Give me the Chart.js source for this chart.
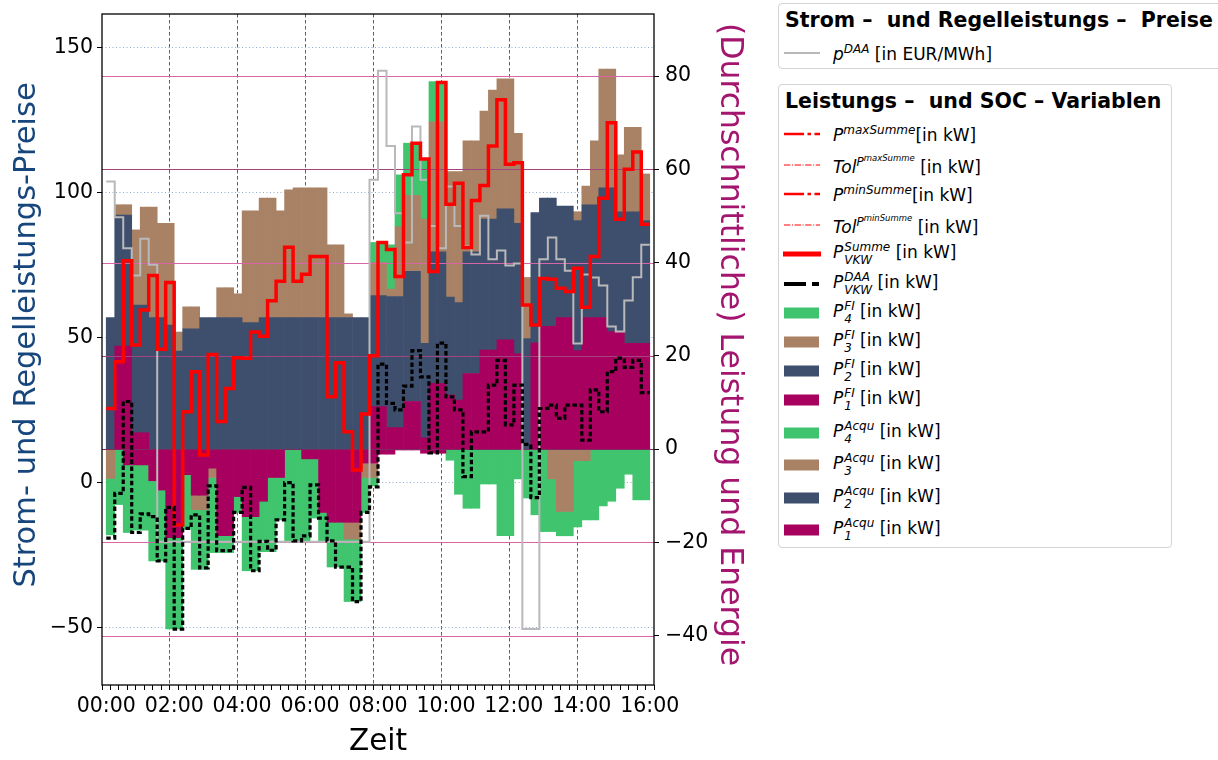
<!DOCTYPE html>
<html>
<head>
<meta charset="utf-8">
<title>Leistung und Preise</title>
<script src="https://cdn.jsdelivr.net/npm/chart.js@4"></script>
<style>
  body { margin: 0; background: #fff; width: 1218px; height: 760px; overflow: hidden; position: relative; font-family: 'DejaVu Sans', sans-serif; color: #000; }
  #chart { position: absolute; left: 0; top: 0; }
  .box { position: absolute; left: 778px; border: 1.5px solid #d4d4d4; border-radius: 4px; background: #fff; box-sizing: border-box; }
  .box h3 { position: absolute; left: 6px; top: 6px; margin: 0; font-size: 20.5px; font-weight: bold; line-height: 21px; white-space: pre; }
  .row { position: absolute; left: 4px; height: 30px; display: flex; align-items: center; white-space: nowrap; font-size: 17px; }
  .row svg { width: 38px; height: 14px; margin-right: 12px; flex: none; }
  .ss { display: inline-flex; flex-direction: column; font-size: 12px; line-height: 13px; vertical-align: 7px; font-style: italic; margin-left: 1px; }
  .sp { font-size: 12px; vertical-align: 7px; font-style: italic; }
  .sp2 { font-size: 8.5px; vertical-align: 5px; font-style: italic; }
</style>
</head>
<body>
<canvas id="chart" width="770" height="760"></canvas>

<div class="box" style="top:3px; width:460px; height:66px;">
  <h3>Strom –  und Regelleistungs –  Preise</h3>
  <div class="row" style="top:34px"><svg viewBox="0 0 38 14"><line x1="1" y1="7" x2="37" y2="7" stroke="#b8b8b8" stroke-width="2"/></svg><span><i>p</i><span class="sp">DAA</span> [in EUR/MWh]</span></div>
</div>

<div class="box" style="top:84px; width:394px; height:464px;">
  <h3>Leistungs –  und SOC – Variablen</h3>
  <div class="row" style="top:34px"><svg viewBox="0 0 38 14"><line x1="1" y1="7" x2="37" y2="7" stroke="#ff0000" stroke-width="2.6" stroke-dasharray="20 3.5 3.5 3.5"/></svg><span><i>P</i><span class="sp">maxSumme</span>[in kW]</span></div>
  <div class="row" style="top:65px"><svg viewBox="0 0 38 14"><line x1="1" y1="7" x2="37" y2="7" stroke="#ff0000" stroke-width="1" stroke-dasharray="6.4 1.6 1 1.6"/></svg><span><i>Tol</i><span class="sp">P<span class="sp2">maxSumme</span></span> [in kW]</span></div>
  <div class="row" style="top:94px"><svg viewBox="0 0 38 14"><line x1="1" y1="7" x2="37" y2="7" stroke="#ff0000" stroke-width="2.6" stroke-dasharray="20 3.5 3.5 3.5"/></svg><span><i>P</i><span class="sp">minSumme</span>[in kW]</span></div>
  <div class="row" style="top:125px"><svg viewBox="0 0 38 14"><line x1="1" y1="7" x2="37" y2="7" stroke="#ff0000" stroke-width="1" stroke-dasharray="6.4 1.6 1 1.6"/></svg><span><i>Tol</i><span class="sp">P<span class="sp2">minSumme</span></span> [in kW]</span></div>
  <div class="row" style="top:154px"><svg viewBox="0 0 38 14"><line x1="0" y1="7" x2="38" y2="7" stroke="#ff0000" stroke-width="5"/></svg><span><i>P</i><span class="ss"><span>Summe</span><span>VKW</span></span> [in kW]</span></div>
  <div class="row" style="top:184px"><svg viewBox="0 0 38 14"><line x1="1" y1="7" x2="36" y2="7" stroke="#000" stroke-width="4" stroke-dasharray="22 6"/></svg><span><i>P</i><span class="ss"><span>DAA</span><span>VKW</span></span> [in kW]</span></div>
  <div class="row" style="top:213px"><svg viewBox="0 0 38 14"><rect x="1" y="1.5" width="35" height="11" fill="#40c46e"/></svg><span><i>P</i><span class="ss"><span>FI</span><span>4</span></span> [in kW]</span></div>
  <div class="row" style="top:242px"><svg viewBox="0 0 38 14"><rect x="1" y="1.5" width="35" height="11" fill="#a98265"/></svg><span><i>P</i><span class="ss"><span>FI</span><span>3</span></span> [in kW]</span></div>
  <div class="row" style="top:271px"><svg viewBox="0 0 38 14"><rect x="1" y="1.5" width="35" height="11" fill="#3e4f6e"/></svg><span><i>P</i><span class="ss"><span>FI</span><span>2</span></span> [in kW]</span></div>
  <div class="row" style="top:300px"><svg viewBox="0 0 38 14"><rect x="1" y="1.5" width="35" height="11" fill="#a8005f"/></svg><span><i>P</i><span class="ss"><span>FI</span><span>1</span></span> [in kW]</span></div>
  <div class="row" style="top:333px"><svg viewBox="0 0 38 14"><rect x="1" y="1.5" width="35" height="11" fill="#40c46e"/></svg><span><i>P</i><span class="ss"><span>Acqu</span><span>4</span></span> [in kW]</span></div>
  <div class="row" style="top:365px"><svg viewBox="0 0 38 14"><rect x="1" y="1.5" width="35" height="11" fill="#a98265"/></svg><span><i>P</i><span class="ss"><span>Acqu</span><span>3</span></span> [in kW]</span></div>
  <div class="row" style="top:398px"><svg viewBox="0 0 38 14"><rect x="1" y="1.5" width="35" height="11" fill="#3e4f6e"/></svg><span><i>P</i><span class="ss"><span>Acqu</span><span>2</span></span> [in kW]</span></div>
  <div class="row" style="top:430px"><svg viewBox="0 0 38 14"><rect x="1" y="1.5" width="35" height="11" fill="#a8005f"/></svg><span><i>P</i><span class="ss"><span>Acqu</span><span>1</span></span> [in kW]</span></div>
</div>

<script>
// quarter-hour values 00:00 .. 15:45 (64 steps)
const timeLabels = ['00:00', '02:00', '04:00', '06:00', '08:00', '10:00', '12:00', '14:00', '16:00'];
const priceTicks = [150, 100, 50, 0, -50];
const powerTicks = [80, 60, 40, 20, 0, -20, -40];

// day-ahead price [EUR/MWh], left axis
const priceDAA = [103.8, 91.5, 80.8, 71.4, 84.1, 75.1, -20.4, -20.4, -20.4, -20.4,
  -20.4, -20.4, -20.4, -20.4, -20.4, -20.4, -20.4, -20.4, -20.4, -20.4,
  -20.4, -20.4, -20.4, -20.4, -20.4, -20.4, -20.4, -20.4, -20.4, -20.4,
  -20.4, 104.4, 142, 116.1, 92.9, 82.8, 122.8, 104.4, 88.5, 80.8,
  102.1, 88.5, 81.6, 78.7, 92, 77, 80, 74.9, 75.6, -50.5,
  -50.5, 77, 84.5, 77, 73.1, 48, 71.8, 70.7, 68, 53.8,
  52.1, 62.8, 70.8, 82];

// P_VKW^Summe [kW]
const pVkwSumme = [8.7, 18.7, 40.4, 22.3, 29.8, 37.2, 21.4, 35.7, -16.3, 8.0,
  16.6, -1.3, 20.3, 5.9, 13, 19.6, 19.5, 25.1, 24.2, 31.8,
  36, 43.3, 36, 37.5, 41.3, 41.3, 11.2, 18.5, 3.7, -4.5,
  7.5, 20, 44.3, 42.8, 37, 58.8, 65.6, 62.2, 38.1, 78.6,
  52.5, 57, 43.2, 53.3, 56.5, 65, 74.9, 61.1, 61.4, 30.9,
  26.6, 36.6, 36.4, 34.5, 33.8, 38.8, 30.4, 41.3, 53.8, 70,
  49.3, 60, 63.7, 48.2];

// P_VKW^DAA [kW]
const pVkwDAA = [-19.1, -9.5, 10.2, -17.9, -13.9, -14.5, -24, -12.5, -38.6, -17,
  -14.1, -25.5, -7.9, -21.8, -21.8, -13.6, -8.2, -26.1, -19.8, -21.7,
  -15.2, -7.2, -19.7, -18.6, -7.7, -14.8, -19.7, -25.3, -25.3, -32.7,
  -13.6, -8.1, 18.2, 9.8, 8.4, 13.5, 21.1, 15.5, -0.8, 22.7,
  11.2, 8.4, -5.9, 3.7, 3.7, 13.7, 19, 5.2, 13.7, 1,
  -10.4, 8.7, 9.4, 6.6, 9.4, 9.4, 1.9, 12.7, 8, 16.6,
  19.5, 17.5, 19, 12.1];

// P_1..4^FI [kW]
const pFI1 = [0, 22.1, 22.1, 3.5, 3.5, 0, 0, 0, 0, 0,
  0, 0, 0, 0, 0, 0, 0, 0, 0, 0,
  0, 0, 0, 0, 0, 0, 0, 0, 0, 0,
  0, 9.1, 9.1, 4.6, 4.6, 10.2, 10.2, 2.4, 14.1, 14.1,
  11.6, 10.5, 16.2, 16.2, 21.2, 21.2, 23.4, 23.4, 20.4, 0,
  22.8, 26.3, 26.3, 28.2, 28.2, 21.1, 28.2, 28.2, 28.2, 25.2,
  25.2, 22.7, 22.7, 22.7];
const pFI2 = [28.2, 28.1, 28.1, 27.4, 27.4, 28.2, 28.2, 26.6, 21, 25.8,
  25.8, 28.2, 28.2, 28.2, 28.2, 28.2, 27.1, 27.1, 28.2, 28.2,
  28.2, 28.2, 28.2, 28.2, 28.2, 28.2, 28.2, 28.2, 28.2, 28.2,
  28.2, 23.8, 23.8, 28.1, 28.1, 27.9, 27.9, 20.3, 28.2, 28.2,
  21, 20.9, 26.1, 26.1, 28.1, 28.1, 28.1, 28.1, 28, 23.7,
  27.9, 27.5, 27.5, 23.9, 23.9, 27.9, 24.2, 24.2, 27.8, 30.8,
  25.7, 28.2, 28.2, 26.3];
const pFI3 = [0, 2.2, 2.2, 16.1, 21, 23.7, 20.2, 21.8, 4.1, 4.7,
  4.7, 0, 0, 6.4, 6.4, 5.1, 24, 24, 25.6, 25.6,
  22.9, 27.4, 27.8, 27.8, 27.8, 27.8, 15.6, 15.6, 0.8, 0,
  0, 7.1, 7.1, 1.6, 15, 16.3, 16.3, 26.6, 27.9, 27.9,
  26.9, 28.1, 23.8, 23.8, 23.2, 27.7, 27.9, 27.9, 19.3, 13.1,
  0, 0, 0, 0, 0, 1.9, 4, 13.7, 25.5, 25.5,
  12.2, 18.1, 18.1, 10];
const pFI4 = [0, 0, 0, 0, 0, 0, 0, 0, 0, 0,
  0, 0, 0, 0, 0, 0, 0, 0, 0, 0,
  0, 0, 0, 0, 0, 0, 0, 0, 0, 0,
  0, 4.3, 4.3, 9.5, 11.1, 11.2, 11.2, 12.7, 8.6, 8.6,
  0, 0, 0, 0, 0, 0, 0, 0, 0, 0,
  0, 0, 0, 0, 0, 0, 0, 0, 0, 0,
  0, 0, 0, 0];

// P_1..4^Acqu [kW]
const pAcqu1 = [0, 0, -3.4, -3.4, -3.4, -6.8, -8.8, -19, -19, -5.5,
  -9.9, -9.9, -4.1, -18.6, -18.6, -10.2, -14.5, -14.5, -11.2, -6.1,
  -6.1, 0, 0, -2.1, -2.1, -13.6, -15.7, -15.7, -15.7, -15.7,
  -3, -3, -1.1, -1.1, -0.2, -0.2, -0.2, -0.9, -0.9, -0.9,
  0, 0, 0, 0, 0, 0, 0, 0, 0, 0,
  0, 0, 0, 0, 0, 0, 0, 0, 0, 0,
  0, 0, 0, 0];
const pAcqu2 = [0, 0, 0, 0, 0, 0, 0, 0, 0, 0,
  0, 0, 0, 0, 0, 0, 0, 0, 0, 0,
  0, 0, 0, 0, 0, 0, 0, 0, 0, 0,
  0, 0, 0, 0, 0, 0, 0, 0, 0, 0,
  0, 0, 0, 0, 0, 0, 0, 0, 0, 0,
  0, 0, 0, 0, 0, 0, 0, 0, 0, 0,
  0, 0, 0, 0];
const pAcqu3 = [-6.3, 0, 0, 0, 0, 0, 0, 0, 0, 0,
  -3.1, -3.1, -2, 0, 0, 0, 0, 0, 0, 0,
  0, 0, 0, 0, 0, 0, 0, 0, -3.6, -3.6,
  -3.1, -3.1, 0, 0, 0, 0, 0, 0, 0, 0,
  0, 0, 0, 0, 0, 0, 0, 0, 0, 0,
  0, 0, -6.4, -13.4, -13.4, -2.5, -2.5, 0, 0, 0,
  0, 0, 0, 0];
const pAcqu4 = [-12.1, -11.9, -14.5, -14, -14, -17.2, -15.2, -19.6, -19.6, -11.7,
  -12.8, -12.8, -16.1, -3.6, -3.6, -3.4, -11.6, -11.6, -10.8, -15.9,
  -9.1, -19.7, -19.7, -17.6, -12.7, -6.1, -9.6, -9.6, -13.4, -13.4,
  -7.5, -1.8, 0, 0, 0, 0, 0, 0, 0, 0,
  -2.4, -9.7, -12.7, -12.7, -7.5, -7.5, -18.6, -18.6, -6.4, -10.5,
  -14.1, -17.7, -11.3, -5.2, -5.2, -14.2, -12.7, -15.2, -12.2, -11.2,
  -8.4, -5.4, -10.9, -10.9];

const colGreen = '#40c46e', colBrown = '#a98265', colNavy = '#3e4f6e', colMagenta = '#a8005f';
const priceMin = -69.8, priceMax = 161.6;
const powerMin = -50.6, powerMax = 93.3;

// step lines: value i holds from i to i+1, last value repeated at the end
const steps = vals => vals.concat(vals[vals.length - 1]).map((v, i) => ({ x: i, y: v }));
// bars centred in their quarter hour; zeros left out so they leave no hairline
const bars = vals => vals.map((v, i) => ({ x: i + 0.5, y: v === 0 ? null : v }));
const minus = v => String(v).replace('-', '\u2212');
const nb = '\u00a0';

function barSet(label, vals, color) {
  return {
    type: 'bar', label, data: bars(vals), yAxisID: 'yb', stack: 'p',
    backgroundColor: color, borderWidth: 0, barPercentage: 1, categoryPercentage: 1
  };
}
function stepSet(label, vals, axis, color, width, dash) {
  return {
    type: 'line', label, data: steps(vals), yAxisID: axis, stepped: true,
    borderColor: color, borderWidth: width, borderDash: dash || [],
    borderJoinStyle: 'miter', pointRadius: 0, fill: false
  };
}
// keep the plot frame exactly where the layout puts it
function fixWidth(w) {
  return s => { s.width = w; s.paddingTop = 0; s.paddingBottom = 0; };
}
// dashed vertical grid every two hours, none on the frame itself
const hourGrid = c => {
  const v = c.tick ? c.tick.value : -1;
  return v % 8 === 0 && v > 0 && v < 64 ? '#5e5e5e' : 'rgba(0,0,0,0)';
};

// horizontal level lines on the power axis, drawn above the bars but under the lines
const levelLines = {
  id: 'levelLines',
  beforeDatasetDraw(chart, args) {
    if (args.index !== 2) return;
    const { ctx, chartArea: a } = chart;
    const s = chart.scales.y1;
    ctx.save();
    ctx.lineWidth = 1;
    s.ticks.forEach(t => {
      const y = Math.round(s.getPixelForValue(t.value)) + 0.5;
      ctx.strokeStyle = t.value === 0 ? '#7d2a62' : (t.value === 60 || t.value === 20) ? '#a2447f' : '#d865a8';
      ctx.beginPath();
      ctx.moveTo(a.left, y);
      ctx.lineTo(a.right, y);
      ctx.stroke();
    });
    ctx.restore();
  }
};
// solid frame round the plot (axis borders would pick up the grid dashes)
const frame = {
  id: 'frame',
  afterDraw(chart) {
    const { ctx, chartArea: a } = chart;
    ctx.save();
    ctx.strokeStyle = '#000';
    ctx.lineWidth = 1.3;
    ctx.setLineDash([]);
    ctx.strokeRect(a.left, a.top, a.right - a.left, a.bottom - a.top);
    ctx.restore();
  }
};

Chart.defaults.font.family = "'DejaVu Sans', sans-serif";
Chart.defaults.color = '#000';

new Chart(document.getElementById('chart'), {
  type: 'bar',
  data: {
    datasets: [
      stepSet('P_VKW^DAA', pVkwDAA, 'y1', '#000000', 3.2, [4.5, 2.6]),
      stepSet('P_VKW^Summe', pVkwSumme, 'y1', '#ff0000', 3.5),
      stepSet('p^DAA', priceDAA, 'y', '#b9b9b9', 2),
      barSet('P_1^FI', pFI1, colMagenta),
      barSet('P_2^FI', pFI2, colNavy),
      barSet('P_3^FI', pFI3, colBrown),
      barSet('P_4^FI', pFI4, colGreen),
      barSet('P_1^Acqu', pAcqu1, colMagenta),
      barSet('P_2^Acqu', pAcqu2, colNavy),
      barSet('P_3^Acqu', pAcqu3, colBrown),
      barSet('P_4^Acqu', pAcqu4, colGreen)
    ]
  },
  options: {
    responsive: false,
    animation: false,
    events: [],
    layout: { padding: { top: 14, left: 0, right: 0, bottom: 0 } },
    plugins: { legend: { display: false }, tooltip: { enabled: false } },
    scales: {
      x: {
        type: 'linear', min: 0, max: 64,
        afterBuildTicks: s => { s.ticks = Array.from({ length: 65 }, (_, i) => ({ value: i })); },
        afterFit: s => { s.height = 75; s.paddingLeft = 0; s.paddingRight = 0; },
        ticks: {
          autoSkip: false, maxRotation: 0, minRotation: 0, padding: 4, font: { size: 20.5 },
          callback: v => (v % 8 === 0 ? timeLabels[v / 8] : '')
        },
        grid: { color: hourGrid, lineWidth: 1, tickColor: '#000', tickLength: 5, tickBorderDash: [] },
        border: { display: false, dash: [3.5, 2.5] },
        title: { display: true, text: 'Zeit', font: { size: 29.5 }, padding: { top: 0, bottom: 0 } }
      },
      y: {
        position: 'left', min: priceMin, max: priceMax,
        afterBuildTicks: s => { s.ticks = priceTicks.map(v => ({ value: v })); },
        afterFit: fixWidth(102),
        ticks: { padding: 4, font: { size: 20.5 }, callback: v => minus(v) },
        grid: { color: '#8ea8cf', lineWidth: 1, tickColor: '#000', tickLength: 5, tickBorderDash: [] },
        border: { display: false, dash: [1, 2.5] },
        title: {
          display: true, text: nb + nb + nb + 'Strom- und Regelleistungs-Preise', color: '#17467d',
          font: { size: 30.5 }, padding: { top: 9, bottom: 0 }
        }
      },
      y1: {
        position: 'right', min: powerMin, max: powerMax,
        afterBuildTicks: s => { s.ticks = powerTicks.map(v => ({ value: v })); },
        afterFit: fixWidth(116),
        ticks: { padding: 6, font: { size: 20.5 }, callback: v => minus(v) },
        grid: { drawOnChartArea: false, tickColor: '#000', tickLength: 5, tickBorderDash: [] },
        border: { display: false },
        title: {
          display: true, text: '(Durchschnittliche) Leistung und Energie' + nb, color: '#a3156e',
          font: { size: 31.5 }, padding: { top: 22, bottom: 0 }
        }
      },
      yb: { display: false, stacked: true, min: powerMin, max: powerMax }
    }
  },
  plugins: [levelLines, frame]
});
</script>
</body>
</html>
